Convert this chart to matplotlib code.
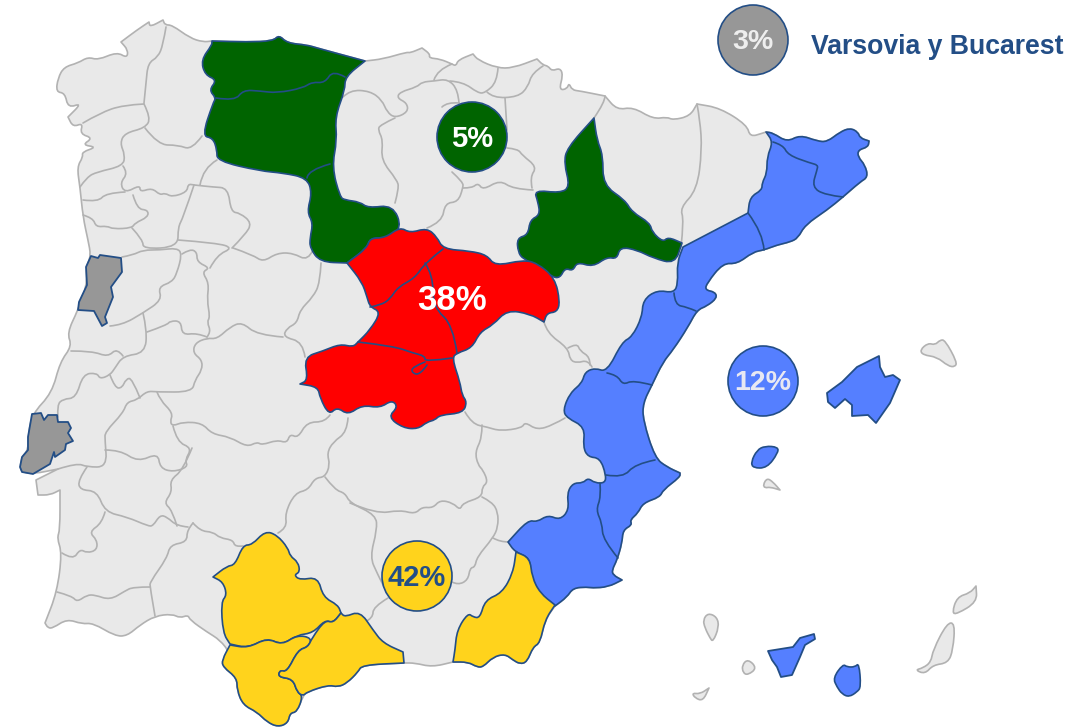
import matplotlib
matplotlib.use("Agg")
import matplotlib.pyplot as plt
from matplotlib.patches import Polygon, Circle, PathPatch
from matplotlib.path import Path

peninsula = [(56,92),(58,78),(64,67),(78,63),(88,57),(98,60),(117,52),(127,58),(128,50),(121,42),(137,30),(149,22),(150,27),(163,20),(165,25),(172,25),(190,38),(203,42),(212,41),
 (247,42),(273,41),(279,35),(287,43),(307,45),(317,48),(365,61),(383,59),(407,52),(410,53),(422,48),(430,54),(429,58),(440,59),(452,64),(456,66),(458,60),(473,54),(478,60),(497,68),(513,68),(537,59),(543,65),(548,66),(552,71),(560,68),(563,75),(559,90),(567,89),(569,83),(572,90),(580,91),(605,96),
 (617,110),(633,107),(653,119),(667,117),(673,120),(690,116),(697,104),(720,108),(747,125),(750,137),(763,133),(766,132),(773,133),(787,142),(800,135),(817,141),(827,142),(840,132),(850,128),(858,132),(860,138),(869,141),(868,147),(858,150),(858,157),(865,165),(868,177),(860,182),(843,197),(827,210),(805,225),(798,238),(790,242),(777,245),(764,250),(753,252),(737,264),(723,263),(707,283),(705,290),(715,292),(717,298),(707,306),(697,310),(688,327),(673,350),(663,362),(652,385),(643,403),(643,420),(655,458),(667,467),(680,473),(680,477),(663,490),(660,497),(643,503),(638,513),(630,520),(632,525),(623,530),(622,543),(617,560),(612,570),(613,575),(622,580),(608,587),(592,588),(587,587),(573,588),(567,597),(555,606),
 (545,620),(540,643),(533,647),(527,662),(520,664),(513,660),(505,654),(493,657),(483,667),(477,667),(468,662),(453,662),(432,667),(415,663),(404,663),(362,665),(358,672),(347,683),(338,687),(328,685),(307,692),(303,696),(297,712),(290,713),(288,723),(278,727),(267,722),(257,712),(243,705),(237,690),(237,678),(223,667),(222,660),(230,653),
 (220,640),(207,632),(190,620),(188,615),(180,618),(172,614),(155,616),(140,625),(127,636),(115,636),(93,623),(82,624),(67,619),(53,628),(48,628),(45,623),(57,592),(62,553),(57,538),(60,530),(60,490),(50,495),(38,495),(36,480),(58,469),(33,474),(22,472),(20,467),(22,457),(28,450),(28,437),(32,414),
 (52,393),(60,362),(72,346),(67,333),(78,310),(87,285),(86,267),(91,256),(88,240),(83,217),(80,187),(77,167),(83,157),(82,152),(97,147),(82,145),(93,138),(80,134),(83,123),(73,127),(68,117),(82,103),(68,108),(65,93)]

fronteras = [
 [(166,27),(163,45),(158,57),(148,63),(146,83),(144,103)],
 [(144,104),(123,105),(100,113),(83,123)],
 [(144,104),(151,118),(145,128),(125,133),(120,143),(125,155),(123,166),(97,172),(87,177),(80,187)],
 [(145,128),(158,145),(178,145),(192,150),(202,136)],
 [(217,160),(203,168),(200,185)],
 [(123,166),(128,173),(120,183),(125,193),(140,185),(140,192),(152,188),(160,195),(165,193),(172,197),(187,192),(188,184),(194,185),(213,187),(228,188),(231,212),(240,213),(252,223),(245,235),(232,248)],
 [(194,185),(183,218),(178,227),(178,247),(143,249),(143,240),(132,228)],
 [(125,192),(106,193),(98,202),(83,200)],
 [(133,195),(137,209),(148,210),(148,217),(135,223),(132,228),(113,229),(107,226),(96,227),(93,218),(83,215)],
 [(122,257),(133,255),(143,250),(160,250),(177,248),(182,254),(177,273),(172,282),(158,287),(162,300),(143,313),(122,325),(110,326)],
 [(182,254),(190,249),(197,252),(197,262),(210,268),(202,272),(209,283),(207,300),(210,317),(207,322),(211,332),(207,337)],
 [(178,240),(217,243),(233,248),(217,255),(210,268)],
 [(233,248),(253,255),(263,262),(277,253),(293,253),(308,261),(313,250)],
 [(321,263),(320,283),(313,297),(300,310),(297,323),(287,328),(283,337),(303,342),(305,357)],
 [(283,337),(257,335),(242,322),(230,327),(217,339),(207,338),(195,343),(193,353),(202,360),(202,370),(195,380),(192,392),(157,392),(147,391),(137,400),(127,402),(123,413),(105,432),(105,440),(107,467),(87,467),(77,463),(58,469)],
 [(143,313),(147,330),(145,353),(123,356),(115,368),(110,375),(100,379),(97,373),(83,374),(76,398),(63,399),(57,405),(58,417)],
 [(147,332),(167,325),(170,321),(181,321),(182,335),(197,333),(207,337)],
 [(71,351),(92,351),(108,357),(117,348),(123,356)],
 [(110,375),(115,388),(122,388),(126,379),(132,378),(140,398)],
 [(157,392),(160,400),(173,413),(170,422),(173,426),(183,422),(202,423),(212,434),(230,437),(247,447),(257,442),(262,445),(277,440),(287,443),(290,434),(298,438),(307,422),(325,422),(330,415)],
 [(173,426),(177,442),(192,448),(185,460),(188,467),(173,472),(160,468),(158,453),(138,462),(120,450),(105,450)],
 [(87,467),(78,480),(80,490),(97,491),(105,512),(127,517),(148,526),(153,526),(160,515),(167,517),(177,526),(188,527)],
 [(105,512),(102,523),(89,532),(97,540),(97,550),(87,553),(80,549),(73,560),(62,553)],
 [(193,523),(187,530),(187,542),(170,545),(167,558),(150,582),(150,587),(155,616)],
 [(150,587),(133,587),(125,591),(110,600),(95,595),(87,595),(77,602),(72,596),(57,592)],
 [(193,523),(200,531),(213,532),(220,538),(233,540),(235,547),(243,546)],
 [(192,448),(183,470),(170,480),(172,492),(164,503),(172,510),(177,526)],
 [(348,418),(347,432),(333,442),(327,453),(330,465),(325,477),(315,478),(308,490),(295,493),(285,513),(287,528),(278,533)],
 [(325,477),(335,490),(345,493),(350,503),(376,515),(377,530),(370,557),(377,573),(383,585)],
 [(350,503),(376,514),(400,510),(415,514),(422,507),(433,508),(440,500),(453,503),(460,510),(463,503),(482,497),(482,487),(488,482),(483,470),(478,465),(475,452),(482,438),(482,425)],
 [(482,497),(492,502),(498,512),(498,527),(493,538),(477,557),(475,567),(470,568),(468,580),(458,585),(452,582)],
 [(493,538),(500,542),(509,542)],
 [(388,598),(373,607),(373,618),(365,622)],
 [(465,412),(472,424),(487,427),(500,431),(522,428),(525,422),(537,430),(553,425),(565,418)],
 [(544,322),(547,333),(568,348),(570,360),(577,363),(588,360),(592,367)],
 [(568,348),(577,343),(580,351),(590,357),(590,365)],
 [(343,97),(350,90),(370,91),(382,100),(387,112),(395,118),(408,112),(407,103),(397,98),(400,92),(417,87),(422,82),(434,81),(448,79),(458,90),(459,103)],
 [(345,78),(353,67),(362,61)],
 [(395,118),(380,125),(378,130),(383,140),(381,160),(397,180),(399,188),(395,203)],
 [(452,64),(437,70),(434,80)],
 [(450,81),(463,82),(478,93),(485,93),(497,82),(498,68)],
 [(487,92),(493,98),(518,97),(528,87),(532,73),(543,66)],
 [(505,98),(507,130)],
 [(507,148),(518,149),(522,155),(537,167),(530,177),(532,188)],
 [(452,172),(463,182),(463,188),(458,202),(445,203),(442,222),(427,228)],
 [(463,188),(472,188),(478,183),(483,190),(500,180),(513,189),(533,190)],
 [(442,107),(447,102),(459,103)],
 [(605,96),(605,102),(594,118)],
 [(697,104),(700,120),(702,150),(697,190),(680,208),(684,220),(681,247)],
]

verde_norte = [(212,41),(247,42),(273,41),(279,35),(287,43),(307,45),(317,48),(365,61),(345,77),(345,90),(335,117),(337,140),(332,167),(340,197),(345,200),(360,202),(368,208),(393,205),(402,228),(387,238),(370,238),(367,248),(347,263),(320,262),(310,248),(310,238),(313,223),(307,212),(312,193),(307,178),(283,173),(260,171),(217,161),(217,150),(213,138),(202,136),(213,103),(216,98),(209,90),(217,80),(205,75),(201,60),(212,45)]
verde_lineas = [[(216,98),(235,101),(243,90),(260,91),(277,93),(303,88),(312,82),(325,83),(333,70),(345,77)],
 [(330,164),(308,170),(307,178)]]
verde_este = [(594,118),(597,140),(603,155),(603,185),(625,200),(632,212),(650,223),(652,232),(663,242),(668,237),(682,243),(675,264),(653,258),(637,250),(620,247),(617,259),(607,257),(593,267),(577,262),(573,271),(565,268),(560,278),(552,277),(540,267),(523,259),(518,252),(517,238),(528,235),(530,220),(540,215),(538,202),(534,190),(560,193),(570,187),(564,163),(567,148)]

rojo = [(347,263),(367,248),(370,238),(385,238),(400,227),(410,233),(427,228),(437,237),(443,249),(470,251),(487,255),(495,266),(523,260),(537,263),(555,278),(560,302),(557,312),(547,313),(544,322),(530,314),(507,310),(493,325),(480,332),(472,348),(457,353),(452,358),(460,382),(462,395),(467,402),(463,413),(440,415),(435,420),(427,422),(418,429),(403,428),(388,417),(398,407),(392,400),(380,408),(362,405),(348,415),(337,407),(329,415),(320,398),(318,387),(300,384),(308,380),(304,357),(323,351),(340,344),(353,347),(358,342),(370,330),(381,312),(370,307),(367,297),(362,282)]
rojo_lineas = [[(443,249),(425,263),(415,278),(398,287),(390,299),(381,305),(370,307)],
 [(425,263),(433,275),(433,307),(453,325),(457,353)],
 [(358,342),(393,346),(413,353),(425,356),(425,362),(452,358)],
 [(425,362),(412,367),(412,373),(420,375),(427,365)]]

azul = [(766,132),(773,133),(787,142),(800,135),(817,141),(827,142),(840,132),(850,128),(858,132),(860,138),(869,141),(868,147),(858,150),(858,157),(865,165),(868,177),(860,182),(843,197),(827,210),(805,225),(798,238),(790,242),(777,245),(764,250),(753,252),(737,264),(723,263),(707,283),(705,290),(715,292),(717,298),(707,306),(697,310),(688,327),(673,350),(663,362),(652,385),(643,403),(643,420),(655,458),(667,467),(680,473),(680,477),(663,490),(660,497),(643,503),(638,513),(630,520),(632,525),(623,530),(622,543),(617,560),(612,570),(613,575),(622,580),(608,587),(592,588),(587,587),(573,588),(567,597),(555,606),
 (538,593),(530,573),(530,558),(515,552),(508,542),(528,520),(537,522),(548,515),(560,520),(569,510),(567,493),(573,483),(583,483),(588,478),(595,483),(605,483),(606,475),(600,458),(588,457),(583,447),(585,427),(567,418),(563,410),(570,393),(582,383),(585,372),(595,368),(607,372),(622,342),(632,337),(642,317),(643,300),(657,290),(674,293),(678,283),(677,263),(683,247),(748,213),(750,197),(762,190),(762,183),(767,173),(767,157),(773,142)]
azul_lineas = [[(773,142),(783,145),(788,155),(810,163),(818,165),(817,170),(812,187),(825,195),(843,197)],
 [(748,213),(763,233),(764,250)],
 [(674,293),(675,305),(687,307),(696,311)],
 [(607,373),(617,375),(623,385),(633,380),(652,385)],
 [(606,475),(623,478),(635,464),(655,460)],
 [(600,483),(601,497),(596,510),(602,523),(603,540),(618,558)]]

amarillo_1 = [(213,577),(227,566),(235,565),(243,545),(252,545),(265,531),(277,535),(288,548),(290,556),(298,562),(300,572),(294,575),(300,580),(318,577),(323,597),(338,605),(341,613),(333,623),(325,620),(313,633),(297,635),(282,645),(267,638),(248,648),(230,644),(223,633),(221,602),(227,595),(223,582)]
amarillo_2 = [(230,645),(248,648),(267,638),(282,645),(297,635),(312,638),(308,647),(298,650),(287,672),(280,670),(278,677),(293,679),(297,692),(303,696),(297,712),(290,713),(288,723),(278,727),(267,722),(257,712),(243,705),(237,690),(237,678),(223,667),(222,660)]
amarillo_3 = [(341,613),(345,617),(360,611),(373,630),(383,643),(403,652),(404,663),(362,665),(358,672),(347,683),(338,687),(328,685),(307,692),(303,696),(297,692),(293,679),(278,677),(280,670),(287,672),(298,650),(308,647),(312,638),(325,620),(333,623)]
amarillo_4 = [(516,552),(513,573),(502,593),(485,600),(480,618),(473,617),(468,613),(457,630),(455,650),(453,662),(468,662),(477,667),(483,667),(493,657),(505,654),(513,660),(520,664),(527,662),(533,647),(540,643),(545,620),(555,605),(540,593),(532,577),(530,558)]

gris_1 = [(86,267),(91,256),(98,258),(100,255),(121,258),(122,272),(111,287),(113,297),(105,317),(107,323),(102,326),(94,311),(78,310),(79,302),(87,285)]
gris_2 = [(32,414),(41,413),(44,420),(48,415),(57,415),(58,422),(68,422),(71,428),(68,433),(73,441),(66,444),(65,450),(55,457),(54,452),(50,464),(33,474),(22,472),(20,467),(22,457),(28,450),(28,437)]

mallorca = [(827,393),(842,382),(857,367),(879,356),(880,367),(885,377),(893,375),(900,380),(890,403),(876,423),(868,415),(852,416),(852,405),(845,399),(835,408),(828,402)]
ibiza = [(751,462),(757,450),(765,446),(778,447),(778,453),(767,468),(753,468)]
tenerife = [(768,651),(793,647),(800,638),(814,634),(815,639),(805,645),(800,657),(792,675),(781,677),(777,667),(772,660)]
gran_canaria = [(833,678),(843,664),(847,667),(855,667),(859,663),(861,687),(857,692),(849,697),(842,694),(837,687)]

islas_gris = [
 [(763,485),(767,478),(773,482),(780,490),(770,487),(765,488)],
 [(920,350),(928,343),(935,345),(940,340),(945,340),(957,362),(955,367),(948,366),(937,357),(923,355)],
 [(703,620),(708,613),(717,617),(719,627),(713,642),(710,638),(705,628)],
 [(742,665),(748,659),(757,668),(748,675),(743,673)],
 [(692,693),(700,694),(709,688),(703,701),(695,698)],
 [(915,670),(923,668),(931,662),(933,650),(947,623),(955,623),(953,650),(948,663),(933,665),(925,674)],
 [(952,613),(957,597),(970,593),(976,586),(977,602),(957,614)],
]

# esquinas que en el mapa son vivas
picos = [(365,61),(212,41),(594,118),(682,243),(347,263),(300,384),(544,322),(766,132),(555,606),(555,605),(508,542),(622,580),(680,473),(869,141),(213,577),(516,552),(453,662),(404,663),(403,652),(341,613),(163,20),(149,22),(422,48),(473,54),(537,59),(605,96),(45,623),(36,480),(38,495),(60,490),(68,117),(121,42),(697,104),(58,469),(976,586),(709,688),(780,490),(683,247),(748,213),(230,645),(230,644)]

etiquetas = ["3%", "5%", "38%", "12%", "42%"]
titulo = "Varsovia y Bucarest"

GRIS_F = "#e9e9e9"
GRIS_B = "#b2b2b2"
AZUL_B = "#234e86"
VERDE = "#006400"
ROJO = "#ff0000"
AZUL = "#557fff"
AMARILLO = "#ffd31c"
GRIS = "#979797"

plt.rcParams["font.family"] = ["Liberation Sans", "DejaVu Sans"]
fig = plt.figure(figsize=(10.89, 7.28), dpi=100)
ax = fig.add_axes([0, 0, 1, 1])
ax.set_xlim(0, 1089)
ax.set_ylim(728, 0)
ax.axis("off")


def medio(a, b):
    return ((a[0] + b[0]) / 2, (a[1] + b[1]) / 2)


def curva(puntos, cerrada):
    # los puntos hacen de control de curvas cuadraticas
    if len(puntos) == 2:
        return Path(puntos)
    if cerrada:
        # un punto repetido obliga a la curva a pasar por el
        p2 = []
        for p in puntos:
            p2 += [p, p] if p in picos else [p]
        v = [medio(p2[-1], p2[0])]
        for i in range(len(p2)):
            v += [p2[i], medio(p2[i], p2[(i + 1) % len(p2)])]
    else:
        v = [puntos[0]]
        for i in range(1, len(puntos) - 1):
            fin = puntos[i + 1] if i == len(puntos) - 2 else medio(puntos[i], puntos[i + 1])
            v += [puntos[i], fin]
    c = [Path.MOVETO] + [Path.CURVE3] * (len(v) - 1)
    return Path(v, c)


def forma(puntos, color, borde, z, lw=1.2):
    ax.add_patch(PathPatch(curva(puntos, True), facecolor=color, edgecolor=borde, linewidth=lw, joinstyle="round", zorder=z))


def recta(puntos, color, borde, z, lw=1.3):
    ax.add_patch(Polygon(puntos, closed=True, facecolor=color, edgecolor=borde, linewidth=lw, joinstyle="round", zorder=z))


def lineas(lista, color, z, lw=1.2):
    for l in lista:
        ax.add_patch(PathPatch(curva(l, False), facecolor="none", edgecolor=color, linewidth=lw, capstyle="round", zorder=z))


forma(peninsula, GRIS_F, GRIS_B, 1)
lineas(fronteras, GRIS_B, 2)
for isla in islas_gris:
    forma(isla, GRIS_F, GRIS_B, 1)

for p, c in [(verde_norte, VERDE), (verde_este, VERDE), (rojo, ROJO), (azul, AZUL),
             (amarillo_1, AMARILLO), (amarillo_2, AMARILLO), (amarillo_3, AMARILLO), (amarillo_4, AMARILLO),
             (ibiza, AZUL), (gran_canaria, AZUL)]:
    forma(p, c, AZUL_B, 3)
for p, c in [(gris_1, GRIS), (gris_2, GRIS), (mallorca, AZUL), (tenerife, AZUL)]:
    recta(p, c, AZUL_B, 3)
lineas(verde_lineas + rojo_lineas + azul_lineas, AZUL_B, 4)

# burbujas con el porcentaje
burbujas = [(753, 40, GRIS, "#eeeeee", etiquetas[0], 20.5),
            (472, 137, VERDE, "white", etiquetas[1], 21),
            (763, 381, AZUL, "#e8e8f2", etiquetas[3], 20.5),
            (417, 576, AMARILLO, AZUL_B, etiquetas[4], 21)]
for x, y, c, tc, txt, fs in burbujas:
    ax.add_patch(Circle((x, y), 35, facecolor=c, edgecolor=AZUL_B, linewidth=1.2, zorder=5))
    ax.text(x, y + 2, txt, color=tc, fontsize=fs, fontweight="bold", ha="center", va="center", zorder=6)

ax.text(452, 300, etiquetas[2], color="white", fontsize=25, fontweight="bold", ha="center", va="center", zorder=6)
ax.text(811, 47, titulo, color=AZUL_B, fontsize=19.2, fontweight="bold", ha="left", va="center", zorder=6)

fig.savefig("out.png", dpi=100)
